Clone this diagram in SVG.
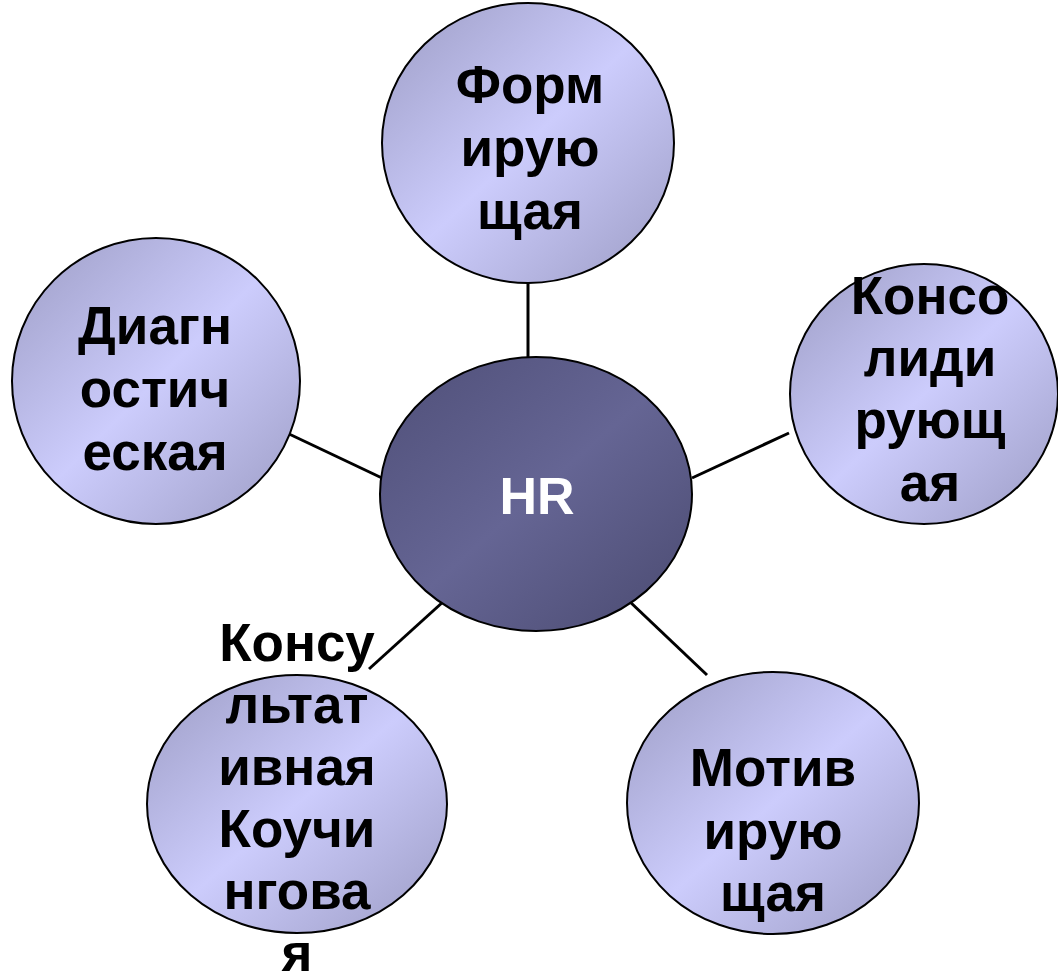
<svg xmlns="http://www.w3.org/2000/svg" width="1058" height="978" viewBox="0 0 1058 978">
  <defs>
    <!-- soft diagonal sheen for outer nodes -->
    <linearGradient id="outerFill" x1="0" y1="0" x2="1" y2="1">
      <stop offset="0" stop-color="#9c9cc4"/>
      <stop offset="0.5" stop-color="#ccccfc"/>
      <stop offset="1" stop-color="#9c9cc4"/>
    </linearGradient>
    <!-- darker sheen for the hub -->
    <linearGradient id="hubFill" x1="0" y1="0" x2="1" y2="1">
      <stop offset="0" stop-color="#4f4f78"/>
      <stop offset="0.5" stop-color="#656594"/>
      <stop offset="1" stop-color="#4a4a70"/>
    </linearGradient>
  </defs>
  <style>
    .outer { fill: url(#outerFill); stroke: #000; stroke-width: 2; }
    .hub { fill: url(#hubFill); stroke: #000; stroke-width: 2; }
    .lbl { font-family: "Liberation Sans", Arial, sans-serif; font-weight: bold; font-size: 53px; fill: #000; text-anchor: middle; }
    .hubl { font-family: "Liberation Sans", Arial, sans-serif; font-weight: bold; font-size: 52px; fill: #fff; text-anchor: middle; }
    .link { stroke: #000; stroke-width: 3; fill: none; }
  </style>
  <rect width="1058" height="978" fill="#fff"/>

  <g id="connectors">
    <line class="link" x1="528" y1="283" x2="528" y2="358"/>
    <line class="link" x1="287" y1="433" x2="382" y2="478"/>
    <line class="link" x1="692" y1="478" x2="789" y2="433"/>
    <line class="link" x1="444" y1="601" x2="369" y2="669"/>
    <line class="link" x1="628" y1="600" x2="707" y2="675"/>
  </g>

  <g id="node-hr">
    <ellipse class="hub" cx="536" cy="494" rx="156" ry="137"/>
    <text class="hubl" x="537" y="514">HR</text>
  </g>

  <g id="node-forming">
    <ellipse class="outer" cx="528" cy="143" rx="146" ry="140"/>
    <text class="lbl" x="530" y="103">Форм</text>
    <text class="lbl" x="530" y="166">ирую</text>
    <text class="lbl" x="530" y="229">щая</text>
  </g>

  <g id="node-diagnostic">
    <ellipse class="outer" cx="156" cy="381" rx="144" ry="143"/>
    <text class="lbl" x="155" y="344">Диагн</text>
    <text class="lbl" x="155" y="407">остич</text>
    <text class="lbl" x="155" y="470">еская</text>
  </g>

  <g id="node-consolidating">
    <ellipse class="outer" cx="924" cy="394" rx="134" ry="130"/>
    <text class="lbl" x="930" y="314">Консо</text>
    <text class="lbl" x="930" y="376">лиди</text>
    <text class="lbl" x="930" y="438">рующ</text>
    <text class="lbl" x="930" y="501">ая</text>
  </g>

  <g id="node-coaching">
    <ellipse class="outer" cx="297" cy="804" rx="150" ry="129"/>
    <text class="lbl" x="297" y="661">Консу</text>
    <text class="lbl" x="297" y="723">льтат</text>
    <text class="lbl" x="297" y="785">ивная</text>
    <text class="lbl" x="297" y="847">Коучи</text>
    <text class="lbl" x="297" y="909">нгова</text>
    <text class="lbl" x="297" y="971">я</text>
  </g>

  <g id="node-motivating">
    <ellipse class="outer" cx="773" cy="803" rx="146" ry="131"/>
    <text class="lbl" x="773" y="786">Мотив</text>
    <text class="lbl" x="773" y="849">ирую</text>
    <text class="lbl" x="773" y="911">щая</text>
  </g>
</svg>
